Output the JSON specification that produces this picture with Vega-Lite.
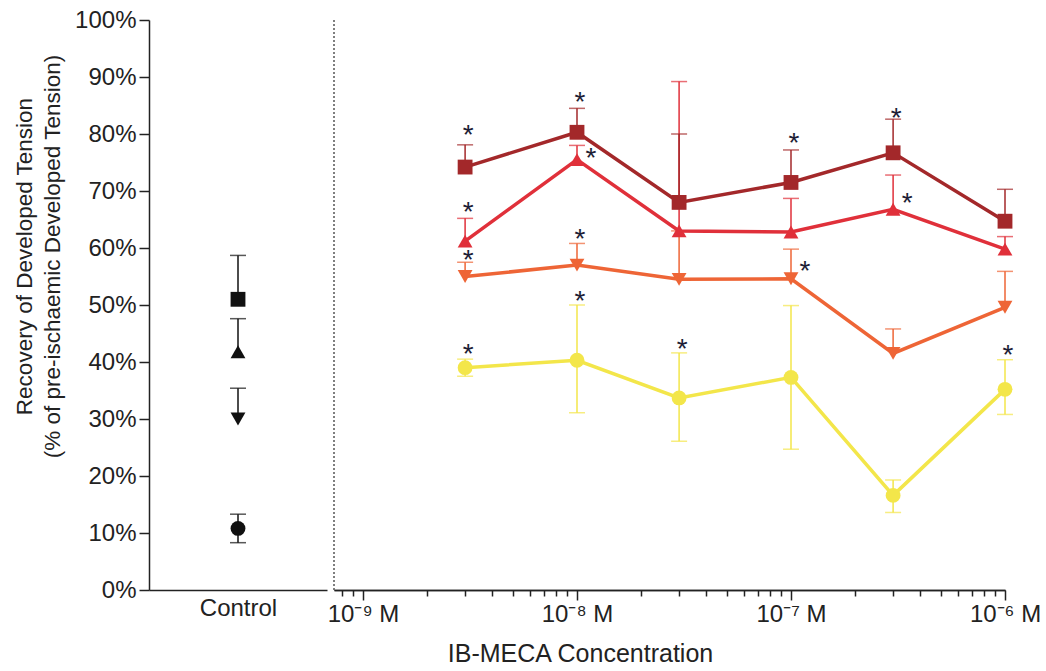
{
  "$schema": "https://vega.github.io/schema/vega-lite/v6.json",
  "background": "white",
  "padding": {"left": 13, "top": 8, "right": 0, "bottom": 0},
  "autosize": {"type": "pad"},
  "spacing": 0,
  "config": {
    "font": "Liberation Sans",
    "view": {"stroke": null},
    "axis": {
      "domainColor": "#222222",
      "tickColor": "#222222",
      "labelColor": "#222222",
      "titleColor": "#222222",
      "domainWidth": 1.5,
      "tickWidth": 1.5,
      "labelFontSize": 24,
      "labelFont": "Liberation Sans",
      "titleFont": "Liberation Sans",
      "titleFontWeight": "normal",
      "grid": false
    }
  },
  "datasets": {
    "control": [
      {"group": "Control", "series": "A", "mean": 51.0, "lo": 51.0, "hi": 58.7},
      {"group": "Control", "series": "B", "mean": 41.8, "lo": 41.8, "hi": 47.6},
      {"group": "Control", "series": "C", "mean": 30.0, "lo": 30.0, "hi": 35.4},
      {"group": "Control", "series": "D", "mean": 10.8, "lo": 8.3, "hi": 13.3}
    ],
    "ibmeca": [
      {"series": "D", "conc": 3e-9, "mean": 39.0, "lo": 37.5, "hi": 40.5},
      {"series": "D", "conc": 1e-8, "mean": 40.3, "lo": 31.1, "hi": 50.0},
      {"series": "D", "conc": 3e-8, "mean": 33.7, "lo": 26.1, "hi": 41.6},
      {"series": "D", "conc": 1e-7, "mean": 37.3, "lo": 24.7, "hi": 49.9},
      {"series": "D", "conc": 3e-7, "mean": 16.6, "lo": 13.6, "hi": 19.3},
      {"series": "D", "conc": 1e-6, "mean": 35.2, "lo": 30.8, "hi": 40.4},
      {"series": "C", "conc": 3e-9, "mean": 55.0, "lo": 55.0, "hi": 57.5},
      {"series": "C", "conc": 1e-8, "mean": 57.0, "lo": 57.0, "hi": 60.8},
      {"series": "C", "conc": 3e-8, "mean": 54.5, "lo": 54.5, "hi": 63.0},
      {"series": "C", "conc": 1e-7, "mean": 54.6, "lo": 54.6, "hi": 59.8},
      {"series": "C", "conc": 3e-7, "mean": 41.5, "lo": 41.5, "hi": 45.8},
      {"series": "C", "conc": 1e-6, "mean": 49.6, "lo": 49.6, "hi": 55.9},
      {"series": "B", "conc": 3e-9, "mean": 61.2, "lo": 61.2, "hi": 65.2},
      {"series": "B", "conc": 1e-8, "mean": 75.5, "lo": 75.5, "hi": 78.0},
      {"series": "B", "conc": 3e-8, "mean": 63.0, "lo": 63.0, "hi": 89.2},
      {"series": "B", "conc": 1e-7, "mean": 62.8, "lo": 62.8, "hi": 68.7},
      {"series": "B", "conc": 3e-7, "mean": 66.8, "lo": 66.8, "hi": 72.8},
      {"series": "B", "conc": 1e-6, "mean": 59.8, "lo": 59.8, "hi": 62.0},
      {"series": "A", "conc": 3e-9, "mean": 74.2, "lo": 74.2, "hi": 78.1},
      {"series": "A", "conc": 1e-8, "mean": 80.3, "lo": 80.3, "hi": 84.5},
      {"series": "A", "conc": 3e-8, "mean": 68.0, "lo": 68.0, "hi": 80.0},
      {"series": "A", "conc": 1e-7, "mean": 71.5, "lo": 71.5, "hi": 77.2},
      {"series": "A", "conc": 3e-7, "mean": 76.7, "lo": 76.7, "hi": 82.6},
      {"series": "A", "conc": 1e-6, "mean": 64.7, "lo": 64.7, "hi": 70.3}
    ],
    "stars": [
      {"conc": 3e-9, "v": 80.8, "pos": "above"},
      {"conc": 3e-9, "v": 67.4, "pos": "above"},
      {"conc": 3e-9, "v": 58.9, "pos": "above"},
      {"conc": 3e-9, "v": 42.4, "pos": "above"},
      {"conc": 1e-8, "v": 86.6, "pos": "above"},
      {"conc": 1e-8, "v": 76.8, "pos": "right"},
      {"conc": 1e-8, "v": 62.7, "pos": "above"},
      {"conc": 1e-8, "v": 51.8, "pos": "above"},
      {"conc": 3e-8, "v": 43.4, "pos": "above"},
      {"conc": 1e-7, "v": 79.4, "pos": "above"},
      {"conc": 1e-7, "v": 57.0, "pos": "right"},
      {"conc": 3e-7, "v": 83.9, "pos": "above"},
      {"conc": 3e-7, "v": 69.0, "pos": "right"},
      {"conc": 1e-6, "v": 42.3, "pos": "above"}
    ],
    "minor": [
      {"conc": 8e-10}, {"conc": 9e-10},
      {"conc": 2e-9}, {"conc": 3e-9}, {"conc": 4e-9}, {"conc": 5e-9}, {"conc": 6e-9}, {"conc": 7e-9}, {"conc": 8e-9}, {"conc": 9e-9},
      {"conc": 2e-8}, {"conc": 3e-8}, {"conc": 4e-8}, {"conc": 5e-8}, {"conc": 6e-8}, {"conc": 7e-8}, {"conc": 8e-8}, {"conc": 9e-8},
      {"conc": 2e-7}, {"conc": 3e-7}, {"conc": 4e-7}, {"conc": 5e-7}, {"conc": 6e-7}, {"conc": 7e-7}, {"conc": 8e-7}, {"conc": 9e-7}
    ]
  },
  "hconcat": [
    {
      "width": 178,
      "height": 570,
      "data": {"name": "control"},
      "encoding": {
        "x": {
          "field": "group",
          "type": "nominal",
          "scale": {"type": "point"},
          "axis": {"title": null, "ticks": false, "labelAngle": 0, "labelPadding": 6, "labelBaseline": "top"}
        }
      },
      "layer": [
        {
          "mark": {"type": "point", "filled": true, "opacity": 1, "color": "#111111", "size": 220},
          "encoding": {
            "y": {
              "field": "mean",
              "type": "quantitative",
              "scale": {"domain": [0, 100], "nice": false},
              "axis": {
                "values": [0, 10, 20, 30, 40, 50, 60, 70, 80, 90, 100],
                "labelExpr": "datum.value + '%'",
                "tickSize": 10,
                "labelPadding": 3,
                "title": ["Recovery of Developed Tension", "(% of pre-ischaemic Developed Tension)"],
                "titleFontSize": 22.5,
                "titleLineHeight": 28,
                "titlePadding": 10,
                "titleY": 236
              }
            },
            "shape": {
              "field": "series",
              "type": "nominal",
              "scale": {"domain": ["A", "B", "C", "D"], "range": ["square", "triangle-up", "triangle-down", "circle"]},
              "legend": null
            }
          }
        },
        {
          "mark": {"type": "rule", "color": "#111111", "strokeWidth": 1.5},
          "encoding": {
            "y": {"field": "lo", "type": "quantitative"},
            "y2": {"field": "hi"}
          }
        },
        {
          "mark": {"type": "tick", "orient": "horizontal", "color": "#111111", "size": 16, "thickness": 1.5},
          "encoding": {
            "y": {"field": "hi", "type": "quantitative"}
          }
        },
        {
          "transform": [{"filter": "datum.lo < datum.mean"}],
          "mark": {"type": "tick", "orient": "horizontal", "color": "#111111", "size": 16, "thickness": 1.5},
          "encoding": {
            "y": {"field": "lo", "type": "quantitative"}
          }
        }
      ]
    },
    {
      "width": 671,
      "height": 570,
      "resolve": {"axis": {"x": "independent"}},
      "layer": [
        {
          "data": {"name": "minor"},
          "mark": {"type": "tick", "opacity": 0},
          "encoding": {
            "x": {
              "field": "conc",
              "type": "quantitative",
              "scale": {"type": "log", "domain": [7.32e-10, 1e-6], "nice": false},
              "axis": {
                "orient": "bottom",
                "values": [8e-10, 9e-10, 2e-9, 3e-9, 4e-9, 5e-9, 6e-9, 7e-9, 8e-9, 9e-9, 2e-8, 3e-8, 4e-8, 5e-8, 6e-8, 7e-8, 8e-8, 9e-8, 2e-7, 3e-7, 4e-7, 5e-7, 6e-7, 7e-7, 8e-7, 9e-7],
                "labels": false,
                "tickSize": 6,
                "title": null
              }
            }
          }
        },
        {
          "data": {"values": [{"edge": 7.32e-10, "bottom": 0, "top": 100}]},
          "mark": {"type": "rule", "color": "#555555", "strokeWidth": 1.5, "strokeDash": [2, 2]},
          "encoding": {
            "x": {"field": "edge", "type": "quantitative", "axis": null},
            "y": {"field": "bottom", "type": "quantitative", "scale": {"domain": [0, 100], "nice": false}, "axis": null},
            "y2": {"field": "top"}
          }
        },
        {
          "data": {"name": "ibmeca"},
          "mark": {"type": "rule", "strokeWidth": 1.5},
          "encoding": {
            "x": {"field": "conc", "type": "quantitative", "axis": null},
            "y": {"field": "lo", "type": "quantitative", "axis": null},
            "y2": {"field": "hi"},
            "color": {"field": "series", "type": "nominal", "scale": {"domain": ["A", "B", "C", "D"], "range": ["#a3282a", "#e0303a", "#ee6536", "#f3e64a"]}, "legend": null}
          }
        },
        {
          "data": {"name": "ibmeca"},
          "mark": {"type": "tick", "orient": "horizontal", "size": 16, "thickness": 1.5},
          "encoding": {
            "x": {"field": "conc", "type": "quantitative", "axis": null},
            "y": {"field": "hi", "type": "quantitative", "axis": null},
            "color": {"field": "series", "type": "nominal", "legend": null}
          }
        },
        {
          "data": {"name": "ibmeca"},
          "transform": [{"filter": "datum.lo < datum.mean"}],
          "mark": {"type": "tick", "orient": "horizontal", "size": 16, "thickness": 1.5},
          "encoding": {
            "x": {"field": "conc", "type": "quantitative", "axis": null},
            "y": {"field": "lo", "type": "quantitative", "axis": null},
            "color": {"field": "series", "type": "nominal", "legend": null}
          }
        },
        {
          "data": {"name": "ibmeca"},
          "mark": {"type": "line", "strokeWidth": 3.5},
          "encoding": {
            "x": {
              "field": "conc",
              "type": "quantitative",
              "axis": {
                "orient": "bottom",
                "values": [1e-9, 1e-8, 1e-7, 1e-6],
                "labelExpr": "'10' + (datum.value < 5e-9 ? '⁻⁹' : datum.value < 5e-8 ? '⁻⁸' : datum.value < 5e-7 ? '⁻⁷' : '⁻⁶') + ' M'",
                "tickSize": 10,
                "labelPadding": 2,
                "labelBaseline": "top",
                "labelFlush": false,
                "title": "IB-MECA Concentration",
                "titleFontSize": 25,
                "titlePadding": 15,
                "titleX": 246
              }
            },
            "y": {"field": "mean", "type": "quantitative", "axis": null},
            "color": {"field": "series", "type": "nominal", "legend": null},
            "detail": {"field": "series"}
          }
        },
        {
          "data": {"name": "ibmeca"},
          "mark": {"type": "point", "filled": true, "opacity": 1, "size": 220},
          "encoding": {
            "x": {"field": "conc", "type": "quantitative", "axis": null},
            "y": {"field": "mean", "type": "quantitative", "axis": null},
            "color": {"field": "series", "type": "nominal", "legend": null},
            "shape": {
              "field": "series",
              "type": "nominal",
              "scale": {"domain": ["A", "B", "C", "D"], "range": ["square", "triangle-up", "triangle-down", "circle"]},
              "legend": null
            }
          }
        },
        {
          "data": {"name": "stars"},
          "transform": [{"filter": "datum.pos == 'above'"}],
          "mark": {"type": "text", "text": "*", "fontSize": 28, "color": "#1d1d35", "baseline": "middle", "dy": 7, "dx": 3},
          "encoding": {
            "x": {"field": "conc", "type": "quantitative", "axis": null},
            "y": {"field": "v", "type": "quantitative", "axis": null}
          }
        },
        {
          "data": {"name": "stars"},
          "transform": [{"filter": "datum.pos == 'right'"}],
          "mark": {"type": "text", "text": "*", "fontSize": 28, "color": "#1d1d35", "baseline": "middle", "dy": 7, "dx": 14},
          "encoding": {
            "x": {"field": "conc", "type": "quantitative", "axis": null},
            "y": {"field": "v", "type": "quantitative", "axis": null}
          }
        }
      ]
    }
  ]
}
